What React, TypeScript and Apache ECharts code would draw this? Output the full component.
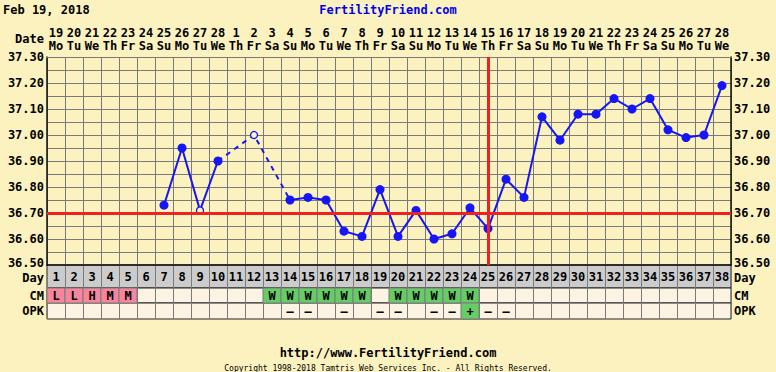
import React, { useEffect, useRef } from "react";
import * as echarts from "echarts";

const dayNumbers = ["1","2","3","4","5","6","7","8","9","10","11","12","13","14","15","16","17","18","19","20","21","22","23","24","25","26","27","28","29","30","31","32","33","34","35","36","37","38"];
const dates = ["19","20","21","22","23","24","25","26","27","28","1","2","3","4","5","6","7","8","9","10","11","12","13","14","15","16","17","18","19","20","21","22","23","24","25","26","27","28"];
const weekdays = ["Mo","Tu","We","Th","Fr","Sa","Su","Mo","Tu","We","Th","Fr","Sa","Su","Mo","Tu","We","Th","Fr","Sa","Su","Mo","Tu","We","Th","Fr","Sa","Su","Mo","Tu","We","Th","Fr","Sa","Su","Mo","Tu","We"];
const temps: (number | null)[] = [null,null,null,null,null,null,36.73,36.95,36.71,36.90,null,37.00,null,36.75,36.76,36.75,36.63,36.61,36.79,36.61,36.71,36.60,36.62,36.72,36.64,36.83,36.76,37.07,36.98,37.08,37.08,37.14,37.10,37.14,37.02,36.99,37.00,37.19];
const openDays = [9, 12];
const coverline = 36.70;
const ovulationDay = "25";
const cm = ["L","L","H","M","M","","","","","","","","W","W","W","W","W","W","","W","W","W","W","W","","","","","","","","","","","","","",""];
const opk = ["","","","","","","","","","","","","","-","-","","-","","-","-","","-","-","+","-","-","","","","","","","","","","","",""];
const yTicks = { min: 36.5, max: 37.3, step: 0.05 };

const BG = "#fcf2c0";
const CREAM = "#fcf3e2";
const FONT = '"DejaVu Sans Mono", monospace';
const BLUE = "#1515f5";
const RED = "#ee2222";
const GRIDC = "#7a7a7a";

const cellColor = (code: string) => {
  if (code === "L" || code === "H" || code === "M") return "#f7869c";
  if (code === "W" || code === "+") return "#66cc66";
  return null;
};

export default function App() {
  const ref = useRef<HTMLDivElement>(null);
  useEffect(() => {
    if (!ref.current) return;
    const chart = echarts.init(ref.current, undefined, { renderer: "svg" });
    const L = 47, W = 684;

    const mainData = temps.map((v, i) => {
      if (v === null) return null;
      if (openDays.includes(i + 1)) {
        return { value: v, symbolSize: 7, itemStyle: { color: BG, borderColor: BLUE, borderWidth: 1.3 } };
      }
      return v;
    });
    const first = temps.findIndex((v) => v !== null);
    let last = temps.length - 1;
    while (temps[last] === null) last--;
    const isGap = (i: number) => i > first && i < last && temps[i] === null;
    const bridge = temps.map((v, i) => (v !== null && (isGap(i - 1) || isGap(i + 1)) ? v : null));

    const yFormatter = (v: number) => {
      if (Math.round(v * 100) % 10 !== 0) return "";
      if (Math.abs(v - yTicks.min) < 1e-6) return `{lo|${v.toFixed(2)}}`;
      return v.toFixed(2);
    };
    const yRich = { lo: { fontFamily: FONT, fontWeight: "bold", fontSize: 12, color: "#000", padding: [0, 0, 5, 0] } };

    const rowGrid = (top: number, height: number, bg: string) => ({
      left: L, width: W, top, height, show: true, backgroundColor: bg, borderColor: "#222", borderWidth: 1,
    });
    const rowX = (gi: number) => ({
      type: "category", gridIndex: gi, data: dayNumbers, boundaryGap: true,
      axisLine: { show: false }, axisTick: { show: false }, axisLabel: { show: false },
      splitLine: { show: true, interval: 0, lineStyle: { color: GRIDC, width: 1 } },
    });
    const rowY = (gi: number, name: string, pos: string, shiftDown: boolean) => ({
      type: "category", gridIndex: gi, data: [name], position: pos,
      axisLine: { show: false }, axisTick: { show: false },
      axisLabel: {
        margin: 3, fontFamily: FONT, fontWeight: "bold", fontSize: 12, color: "#000",
        formatter: (s: string) => (shiftDown ? `{dn|${s}}` : s),
        rich: { dn: { fontFamily: FONT, fontWeight: "bold", fontSize: 12, color: "#000", padding: [3, 0, 0, 0] } },
      },
      splitLine: { show: false },
    });
    // gi: row grid index (1 = Day, 2 = CM, 3 = OPK)
    const cellSeries = (gi: number, codes: string[]) => ({
      type: "custom", xAxisIndex: gi, yAxisIndex: gi * 2,
      data: codes.map((c, i) => [i, 0, c]),
      renderItem: (params: any, api: any) => {
        const code = codes[params.dataIndex];
        const p = api.coord([api.value(0), 0]);
        const s = api.size([1, 1]);
        const children: any[] = [];
        const col = cellColor(code);
        if (col) {
          children.push({ type: "rect", shape: { x: p[0] - s[0] / 2, y: p[1] - s[1] / 2, width: s[0], height: s[1] },
            style: { fill: col, stroke: GRIDC, lineWidth: 1 } });
        }
        if (code) {
          children.push({ type: "text", style: { text: code === "-" ? "\u2013" : code, x: p[0], y: p[1] + 0.5, align: "center", verticalAlign: "middle",
            font: `bold 12px ${FONT}`, fill: "#000" } });
        }
        return { type: "group", children };
      },
      z: 3,
    });

    chart.setOption({
      animation: false,
      backgroundColor: BG,
      grid: [
        { left: L, width: W, top: 57, height: 208 },
        rowGrid(265, 23, "#cccccc"),
        rowGrid(288, 15, CREAM),
        rowGrid(303, 16, CREAM),
      ],
      xAxis: [
        {
          type: "category", gridIndex: 0, data: dayNumbers, boundaryGap: true, position: "bottom",
          axisLine: { show: true, lineStyle: { color: "#111", width: 1.5 } }, axisTick: { show: false }, axisLabel: { show: false },
          splitLine: { show: true, interval: 0, lineStyle: { color: GRIDC, width: 1 } },
        },
        rowX(1), rowX(2), rowX(3),
        {
          type: "category", gridIndex: 0, data: dates.map((d, i) => `${d}\n${weekdays[i]}`), boundaryGap: true, position: "top",
          axisLine: { show: true, lineStyle: { color: GRIDC, width: 1 } }, axisTick: { show: false },
          axisLabel: { interval: 0, margin: 5, fontFamily: FONT, fontWeight: "bold", fontSize: 12, lineHeight: 13, color: "#000" },
          splitLine: { show: false },
        },
      ],
      yAxis: [
        {
          type: "value", gridIndex: 0, min: yTicks.min, max: yTicks.max, interval: yTicks.step, position: "left",
          axisLine: { show: true, lineStyle: { color: "#111", width: 1.5 } }, axisTick: { show: false },
          axisLabel: { margin: 3, fontFamily: FONT, fontWeight: "bold", fontSize: 12, color: "#000", formatter: yFormatter, rich: yRich },
          splitLine: { show: true, lineStyle: { color: GRIDC, width: 1 } },
        },
        {
          type: "value", gridIndex: 0, min: yTicks.min, max: yTicks.max, interval: yTicks.step, position: "right",
          axisLine: { show: true, lineStyle: { color: "#111", width: 1.5 } }, axisTick: { show: false },
          axisLabel: { margin: 3, fontFamily: FONT, fontWeight: "bold", fontSize: 12, color: "#000", formatter: yFormatter, rich: yRich },
          splitLine: { show: false },
        },
        rowY(1, "Day", "left", true), rowY(1, "Day", "right", true),
        rowY(2, "CM", "left", false), rowY(2, "CM", "right", false),
        rowY(3, "OPK", "left", false), rowY(3, "OPK", "right", false),
      ],
      graphic: [
        { type: "text", left: 3, top: 4, style: { text: "Feb 19, 2018", font: `bold 12px ${FONT}`, fill: "#000" } },
        { type: "text", left: "center", top: 4, style: { text: "FertilityFriend.com", font: `bold 12px ${FONT}`, fill: "#0000ee" } },
        { type: "text", right: 776 - 44, top: 33, style: { text: "Date", font: `bold 12px ${FONT}`, fill: "#000" } },
        { type: "text", left: "center", top: 347, style: { text: "http://www.FertilityFriend.com", font: `bold 12px ${FONT}`, fill: "#000" } },
        { type: "text", left: "center", top: 364, style: { text: "Copyright 1998-2018 Tamtris Web Services Inc. - All Rights Reserved.", font: `8px ${FONT}`, fill: "#000" } },
      ],
      series: [
        {
          type: "line", xAxisIndex: 0, yAxisIndex: 0, data: [], silent: true, z: 1,
          markLine: {
            silent: true, symbol: ["none", "none"], label: { show: false },
            lineStyle: { color: RED, width: 3, type: "solid" },
            data: [{ yAxis: coverline }, { xAxis: ovulationDay }],
          },
        },
        {
          type: "line", xAxisIndex: 0, yAxisIndex: 0, data: bridge, connectNulls: true, showSymbol: false, z: 2,
          lineStyle: { color: BLUE, width: 2, type: [5, 5] },
        },
        {
          type: "line", xAxisIndex: 0, yAxisIndex: 0, data: mainData, connectNulls: false, z: 3,
          symbol: "circle", symbolSize: 9, showAllSymbol: true,
          lineStyle: { color: BLUE, width: 2 }, itemStyle: { color: BLUE },
        },
        {
          type: "custom", xAxisIndex: 1, yAxisIndex: 2,
          data: dayNumbers.map((d, i) => [i, 0, d]),
          renderItem: (params: any, api: any) => {
            const p = api.coord([api.value(0), 0]);
            return { type: "text", style: { text: dayNumbers[params.dataIndex], x: p[0], y: p[1] + 0.5, align: "center", verticalAlign: "middle", font: `bold 12px ${FONT}`, fill: "#000" } };
          },
          z: 3,
        },
        cellSeries(2, cm),
        cellSeries(3, opk),
      ],
    });
    return () => chart.dispose();
  }, []);
  return <div ref={ref} style={{ position: "fixed", left: 0, top: 0, width: 776, height: 372 }} />;
}
